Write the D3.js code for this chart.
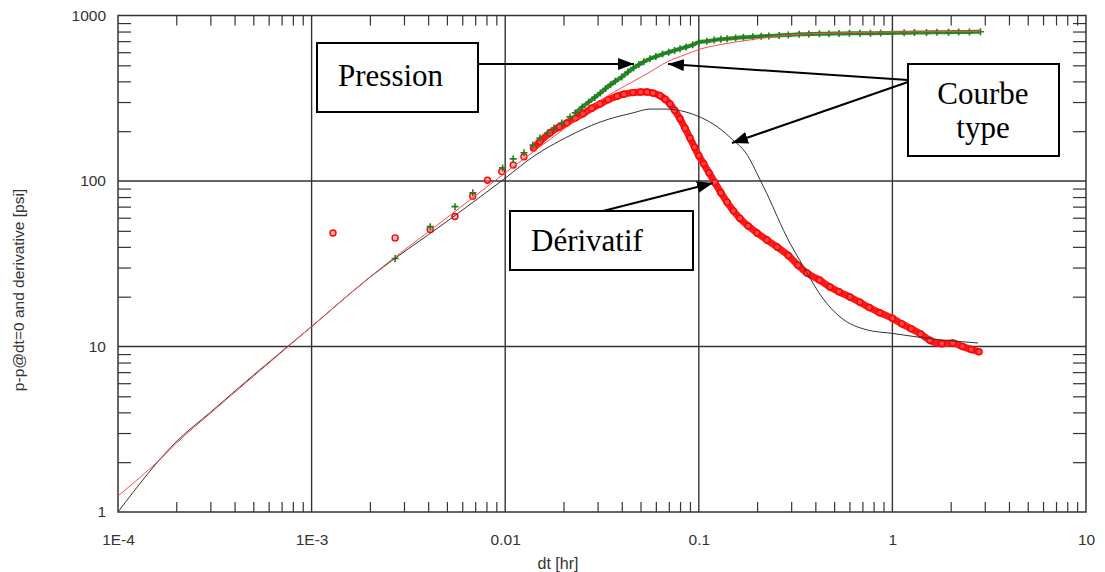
<!DOCTYPE html>
<html>
<head>
<meta charset="utf-8">
<script src="https://cdn.jsdelivr.net/npm/d3@7"></script>
<style>
  body { margin: 0; background: #fff; }
  svg { display: block; }
</style>
</head>
<body>
<div id="chart"></div>
<script>
/* CONSTANTS AND GLOBALS */
const width = 1105,
  height = 572,
  margin = { top: 15.5, right: 19, bottom: 60, left: 118 };

/* DATA */
// x axis decade labels
const xTickValues = [1e-4, 1e-3, 0.01, 0.1, 1, 10];
const xTickLabels = ["1E-4", "1E-3", "0.01", "0.1", "1", "10"];
const yTickValues = [1, 10, 100, 1000];
const yTickLabels = ["1", "10", "100", "1000"];

// type curve, pressure (thin red)
const typePressureDt = [1e-4, 1.3e-4, 1.7e-4, 2e-4, 3e-4, 5e-4, 1e-3, 2e-3, 5e-3, 0.01, 0.015, 0.02, 0.025, 0.0336, 0.045, 0.056, 0.0685, 0.085, 0.101, 0.13, 0.184, 0.25, 0.333, 0.45, 0.6, 1.0, 2.0, 2.85];
const typePressureVal = [1.25, 1.62, 2.15, 2.6, 3.95, 6.6, 13.2, 26.3, 60, 112, 160, 205, 250, 325, 395, 456, 524, 580, 625, 668, 712, 748, 770, 780, 788, 795, 800, 803];

// type curve, derivative (thin black)
const typeDerivDt = [1e-4, 2.04e-4, 3e-4, 5e-4, 1e-3, 2e-3, 5e-3, 0.01, 0.0139, 0.0208, 0.0309, 0.0457, 0.056, 0.0685, 0.085, 0.101, 0.125, 0.15, 0.175, 0.207, 0.24, 0.254, 0.296, 0.333, 0.362, 0.438, 0.536, 0.739, 1.0, 1.62, 2.77];
const typeDerivVal = [1.0, 2.72, 4.0, 6.7, 13.2, 26.2, 57, 104, 140, 184, 227, 258, 272, 272, 262, 244, 212, 177, 148, 102, 71, 61, 42, 33, 27.8, 19.5, 15.1, 12.6, 12.0, 11.1, 10.5];

// measured pressure (green +)
const pressureDt = [0.0027, 0.0041, 0.0055, 0.0068, 0.0097, 0.011, 0.0125, 0.0139, 0.0151, 0.0166, 0.0179, 0.0196, 0.0216,
  0.023, 0.025, 0.027, 0.029, 0.031, 0.033, 0.035, 0.037, 0.040, 0.043, 0.046, 0.049, 0.052, 0.056, 0.060, 0.065, 0.070, 0.075,
  0.080, 0.086, 0.093, 0.10, 0.11, 0.12, 0.13, 0.14, 0.155, 0.17, 0.19, 0.21, 0.23, 0.26, 0.29, 0.33, 0.37, 0.42, 0.47, 0.53,
  0.6, 0.68, 0.77, 0.87, 1.0, 1.15, 1.3, 1.5, 1.7, 1.95, 2.2, 2.5, 2.85];
const pressureVal = [34, 53, 70, 85, 120, 136, 148, 165, 182, 195, 209, 224, 244,
  258, 280, 300, 320, 340, 362, 382, 400, 425, 455, 482, 505, 525, 548, 565, 585, 600, 615,
  630, 645, 665, 690, 700, 710, 718, 724, 732, 738, 743, 748, 752, 758, 763, 770, 772, 775, 777, 779,
  780, 781, 782, 783, 785, 787, 789, 790, 792, 793, 795, 796, 798];

// measured derivative (red o)
const derivDt = [0.00129, 0.0027, 0.0041, 0.0055, 0.0068, 0.0081, 0.0096, 0.011, 0.0125,
  0.014, 0.0151, 0.017, 0.019, 0.0208, 0.023, 0.0252, 0.028, 0.0309, 0.034, 0.0378, 0.041, 0.0457, 0.050, 0.054, 0.058,
  0.063, 0.067, 0.071, 0.075, 0.080, 0.085, 0.090, 0.095, 0.100, 0.106, 0.113, 0.121, 0.130, 0.140, 0.151, 0.163, 0.18,
  0.20, 0.225, 0.254, 0.29, 0.325, 0.362, 0.42, 0.476, 0.53, 0.604, 0.68, 0.76, 0.86, 1.0, 1.12, 1.25,
  1.4, 1.56, 1.8, 2.05, 2.3, 2.55, 2.8];
const derivVal = [48.5, 45.3, 51, 61, 81, 101, 114, 125, 140,
  158, 173, 195, 212, 224, 240, 255, 275, 292, 310, 325, 335, 342, 345, 345, 340,
  328, 312, 292, 268, 238, 208, 182, 160, 142, 127, 112, 98, 85, 74.5, 66, 59.5, 53.5,
  48.5, 44, 39.9, 35.5, 31, 27.8, 25.2, 22.9, 21.4, 19.9, 18.5, 17.2, 16.0, 14.8, 13.7, 12.8,
  11.9, 10.9, 10.4, 10.5, 10.0, 9.6, 9.3];

// annotation texts
const notePression = "Pression";
const noteCourbe = ["Courbe", "type"];
const noteDerivatif = "Dérivatif";

/* SVG */
const svg = d3.select("#chart")
  .append("svg")
  .attr("width", width)
  .attr("height", height);

/* SCALES */
const xScale = d3.scaleLog()
  .domain([1e-4, 10])
  .range([margin.left, width - margin.right]);

const yScale = d3.scaleLog()
  .domain([1, 1000])
  .range([height - margin.bottom, margin.top]);

const x0 = xScale.range()[0], x1 = xScale.range()[1];
const y0 = yScale.range()[0], y1 = yScale.range()[1];

// minor tick values (2..9 within each decade)
const minorX = [];
for (let e = -4; e < 1; e++) for (let k = 2; k <= 9; k++) minorX.push(k * Math.pow(10, e));
const minorY = [];
for (let e = 0; e < 3; e++) for (let k = 2; k <= 9; k++) minorY.push(k * Math.pow(10, e));

const axisColor = "#333";

/* GRID (major decades) */
svg.append("g")
  .selectAll("line")
  .data(xTickValues.slice(1, -1))
  .join("line")
  .attr("x1", d => xScale(d)).attr("x2", d => xScale(d))
  .attr("y1", y1).attr("y2", y0)
  .attr("stroke", axisColor).attr("stroke-width", 1.4);

svg.append("g")
  .selectAll("line")
  .data(yTickValues.slice(1, -1))
  .join("line")
  .attr("x1", x0).attr("x2", x1)
  .attr("y1", d => yScale(d)).attr("y2", d => yScale(d))
  .attr("stroke", axisColor).attr("stroke-width", 1.4);

/* MINOR TICKS (inside, all four sides) */
function styleTicks(g) {
  g.select(".domain").remove();
  g.selectAll(".tick line").attr("stroke", axisColor).attr("stroke-width", 1.2);
}
svg.append("g").attr("transform", `translate(0,${y0})`)
  .call(d3.axisBottom(xScale).tickValues(minorX).tickSize(-10).tickFormat(""))
  .call(styleTicks);
svg.append("g").attr("transform", `translate(0,${y1})`)
  .call(d3.axisTop(xScale).tickValues(minorX).tickSize(-10).tickFormat(""))
  .call(styleTicks);
svg.append("g").attr("transform", `translate(${x0},0)`)
  .call(d3.axisLeft(yScale).tickValues(minorY).tickSize(-13).tickFormat(""))
  .call(styleTicks);
svg.append("g").attr("transform", `translate(${x1},0)`)
  .call(d3.axisRight(yScale).tickValues(minorY).tickSize(-13).tickFormat(""))
  .call(styleTicks);

// frame
svg.append("rect")
  .attr("x", x0).attr("y", y1)
  .attr("width", x1 - x0).attr("height", y0 - y1)
  .attr("fill", "none")
  .attr("stroke", axisColor)
  .attr("stroke-width", 1.5);

/* TICK LABELS */
const xAxis = svg.append("g").attr("transform", `translate(0,${y0})`)
  .call(d3.axisBottom(xScale).tickValues(xTickValues).tickSize(0).tickPadding(22)
    .tickFormat((d, i) => xTickLabels[i]));
xAxis.select(".domain").remove();
xAxis.selectAll("text").attr("font-family", "Liberation Sans, Arial, sans-serif")
  .attr("font-size", 15.5).attr("fill", axisColor);

const yAxis = svg.append("g").attr("transform", `translate(${x0},0)`)
  .call(d3.axisLeft(yScale).tickValues(yTickValues).tickSize(0).tickPadding(12)
    .tickFormat((d, i) => yTickLabels[i]));
yAxis.select(".domain").remove();
yAxis.selectAll("text").attr("font-family", "Liberation Sans, Arial, sans-serif")
  .attr("font-size", 15.5).attr("fill", axisColor);

// axis titles
svg.append("text")
  .attr("x", 558)
  .attr("y", 569)
  .attr("text-anchor", "middle")
  .attr("font-family", "Liberation Sans, Arial, sans-serif")
  .attr("font-size", 16).attr("fill", axisColor)
  .text("dt [hr]");

svg.append("text")
  .attr("transform", `translate(24, 290) rotate(-90)`)
  .attr("text-anchor", "middle")
  .attr("font-family", "Liberation Sans, Arial, sans-serif")
  .attr("font-size", 15.5).attr("fill", axisColor)
  .text("p-p@dt=0 and derivative [psi]");

/* CLIP */
svg.append("clipPath").attr("id", "plot-clip")
  .append("rect")
  .attr("x", x0).attr("y", y1)
  .attr("width", x1 - x0).attr("height", y0 - y1);

const plot = svg.append("g").attr("clip-path", "url(#plot-clip)");

const lineGen = d3.line()
  .x(d => xScale(d[0]))
  .y(d => yScale(d[1]))
  .curve(d3.curveMonotoneX);

const zip = (a, b) => a.map((d, i) => [d, b[i]]);
const typePressure = zip(typePressureDt, typePressureVal);
const typeDeriv = zip(typeDerivDt, typeDerivVal);
const pressure = zip(pressureDt, pressureVal);
const deriv = zip(derivDt, derivVal);

/* MEASURED DATA BANDS (dense part of the records) */
plot.append("path")
  .datum(deriv.filter(d => d[0] >= 0.014))
  .attr("fill", "none")
  .attr("stroke", "#ff1a1a")
  .attr("stroke-width", 7)
  .attr("stroke-linejoin", "round")
  .attr("stroke-linecap", "round")
  .attr("d", lineGen);

plot.append("path")
  .datum(pressure.filter(d => d[0] >= 0.022))
  .attr("fill", "none")
  .attr("stroke", "#2a8a2a")
  .attr("stroke-width", 4)
  .attr("stroke-linejoin", "round")
  .attr("d", lineGen);

// red circles
plot.selectAll("circle.deriv")
  .data(deriv)
  .join("circle")
  .attr("class", "deriv")
  .attr("cx", d => xScale(d[0]))
  .attr("cy", d => yScale(d[1]))
  .attr("r", 3)
  .attr("fill", "rgba(255,120,120,0.5)")
  .attr("stroke", "#ff0000")
  .attr("stroke-width", 1.4);

// green crosses
plot.selectAll("path.pressure")
  .data(pressure)
  .join("path")
  .attr("class", "pressure")
  .attr("transform", d => `translate(${xScale(d[0])},${yScale(d[1])})`)
  .attr("d", "M-3.5,0H3.5M0,-3.5V3.5")
  .attr("stroke", "#1f7f1f")
  .attr("stroke-width", 1.6);

/* TYPE CURVES */
plot.append("path")
  .datum(typeDeriv)
  .attr("fill", "none")
  .attr("stroke", "#333")
  .attr("stroke-width", 1)
  .attr("d", lineGen);

plot.append("path")
  .datum(typePressure)
  .attr("fill", "none")
  .attr("stroke", "#ff4a4a")
  .attr("stroke-width", 1)
  .attr("d", lineGen);

/* ANNOTATIONS */
svg.append("defs").append("marker")
  .attr("id", "arrow")
  .attr("viewBox", "0 0 16 12")
  .attr("refX", 16).attr("refY", 6)
  .attr("markerWidth", 16).attr("markerHeight", 12)
  .attr("markerUnits", "userSpaceOnUse")
  .attr("orient", "auto")
  .append("path")
  .attr("d", "M0,0L16,6L0,12Z")
  .attr("fill", "#000");

const notes = svg.append("g")
  .attr("font-family", "Liberation Serif, Times New Roman, serif")
  .attr("font-size", 31)
  .attr("fill", "#000");

function box(x, y, w, h) {
  notes.append("rect")
    .attr("x", x).attr("y", y).attr("width", w).attr("height", h)
    .attr("fill", "#fff").attr("stroke", "#000").attr("stroke-width", 2);
}
function arrow(xa, ya, xb, yb) {
  notes.append("line")
    .attr("x1", xa).attr("y1", ya).attr("x2", xb).attr("y2", yb)
    .attr("stroke", "#000").attr("stroke-width", 2)
    .attr("marker-end", "url(#arrow)");
}

arrow(478, 64, 634, 64);
box(317, 43, 161, 69);
notes.append("text").attr("x", 338).attr("y", 86).text(notePression);

arrow(908, 80, 668, 64);
arrow(908, 82, 732, 143);
box(908, 64, 151, 92);
notes.append("text").attr("x", 983).attr("y", 104).attr("text-anchor", "middle").text(noteCourbe[0]);
notes.append("text").attr("x", 983).attr("y", 138).attr("text-anchor", "middle").text(noteCourbe[1]);

arrow(603, 211, 713, 183);
box(510, 211, 183, 59);
notes.append("text").attr("x", 531).attr("y", 251).text(noteDerivatif);
</script>
</body>
</html>
